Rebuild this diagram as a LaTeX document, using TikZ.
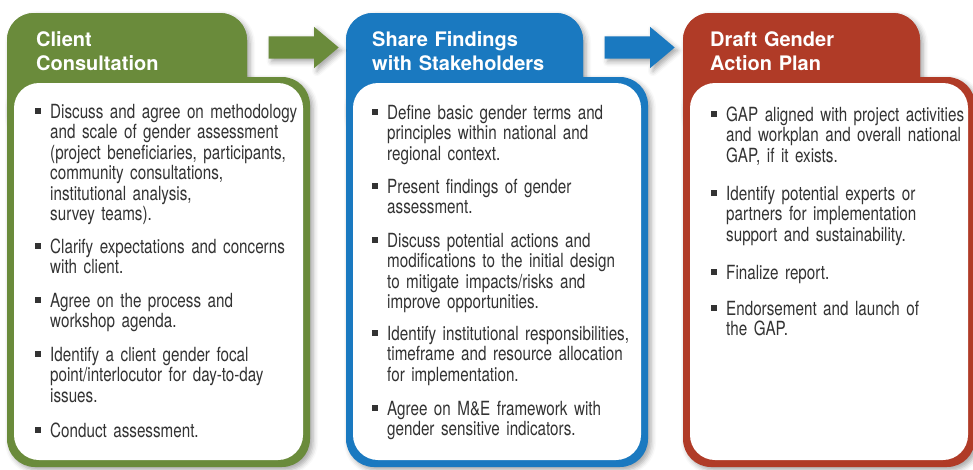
\documentclass[tikz,border=0pt]{standalone}
\usepackage{fontspec}
\usetikzlibrary{shapes.arrows,shadows.blur}
\setmainfont{TeX Gyre Heros}
\newfontfamily\itemfont[FakeStretch=0.78]{TeX Gyre Heros}
\definecolor{gapgreen}{RGB}{106,139,59}
\definecolor{gapblue}{RGB}{26,121,192}
\definecolor{gapred}{RGB}{176,59,39}
\definecolor{itemgray}{RGB}{51,51,51}
\newcommand{\sqbullet}{\raisebox{4pt}{\rule{6pt}{6pt}}}
\newcommand{\bul}[1]{\leftskip=15pt\leavevmode\llap{\sqbullet\hspace{9pt}}#1\par}
\tikzset{
  panelshadow/.style={blur shadow={shadow xshift=3pt, shadow yshift=-3pt,
      shadow blur radius=5pt, shadow opacity=35}},
  heading/.style={anchor=base west, inner sep=0pt, text width=260pt, align=left,
      text=white, font=\bfseries\fontsize{20}{24}\selectfont},
  item/.style={anchor=base west, inner sep=0pt, text width=290pt, align=left,
      text=itemgray, font=\itemfont\fontsize{19.5}{20.5}\selectfont},
  flowarrow/.style={single arrow, inner xsep=0pt, inner ysep=11pt,
      minimum height=70pt, single arrow head extend=9.5pt,
      single arrow tip angle=80, panelshadow},
}

\begin{document}
\begin{tikzpicture}[x=1pt,y=-1pt]
    \useasboundingbox (0,0) rectangle (973,469);
    \clip (0,0) rectangle (973,469);

    \foreach \col/\xl/\xt/\xr in {gapgreen/7/247/310, gapblue/346/583/648, gapred/683/920/975} {
        % tab and body, each with a shadow
        \fill[\col, rounded corners=27pt, panelshadow] (\xl,140) -- (\xl,13) -- (\xt,13) -- (\xt,140) -- cycle;
        \fill[\col, rounded corners=28pt, panelshadow] (\xl,77) rectangle (\xr,467);
        % tab again, over the body shadow
        \fill[\col, rounded corners=27pt] (\xl,140) -- (\xl,13) -- (\xt,13) -- (\xt,140) -- cycle;
        % white inside
        \fill[white, rounded corners=25pt] (\xl+7,83) rectangle (\xr-7,460);
    }

    % arrows between the steps
    \node[flowarrow, fill=gapgreen] (a1) at (297,47.5) {};
    \node[flowarrow, fill=gapblue] (a2) at (633,47.5) {};

    % headings
    \node[heading] (t1) at (36,46) {Client\\Consultation};
    \node[heading] (t2) at (372,46) {Share Findings\\with Stakeholders};
    \node[heading] (t3) at (710,46) {Draft Gender\\Action Plan};

    % first step
    \node[item] (g1) at (35,118) {\bul{Discuss and agree on methodology\\and scale of gender assessment\\(project beneficiaries, participants,\\community consultations,\\institutional analysis,\\survey teams).}};
    \node[item] (g2) at (35,253) {\bul{Clarify expectations and concerns\\with client.}};
    \node[item] (g3) at (35,307) {\bul{Agree on the process and\\workshop agenda.}};
    \node[item] (g4) at (35,361) {\bul{Identify a client gender focal\\point/interlocutor for day-to-day\\issues.}};
    \node[item] (g5) at (35,437) {\bul{Conduct assessment.}};

    % second step
    \node[item] (b1) at (372,119) {\bul{Define basic gender terms and\\principles within national and\\regional context.}};
    \node[item] (b2) at (372,193) {\bul{Present findings of gender\\assessment.}};
    \node[item] (b3) at (372,247) {\bul{Discuss potential actions and\\modifications to the initial design\\to mitigate impacts/risks and\\improve opportunities.}};
    \node[item] (b4) at (372,340) {\bul{Identify institutional responsibilities,\\timeframe and resource allocation\\for implementation.}};
    \node[item] (b5) at (372,415) {\bul{Agree on M\&E framework with\\gender sensitive indicators.}};

    % third step
    \node[item] (r1) at (711,121) {\bul{GAP aligned with project activities\\and workplan and overall national\\GAP, if it exists.}};
    \node[item] (r2) at (711,200) {\bul{Identify potential experts or\\partners for implementation\\support and sustainability.}};
    \node[item] (r3) at (711,279) {\bul{Finalize report.}};
    \node[item] (r4) at (711,315) {\bul{Endorsement and launch of\\the GAP.}};
\end{tikzpicture}
\end{document}
